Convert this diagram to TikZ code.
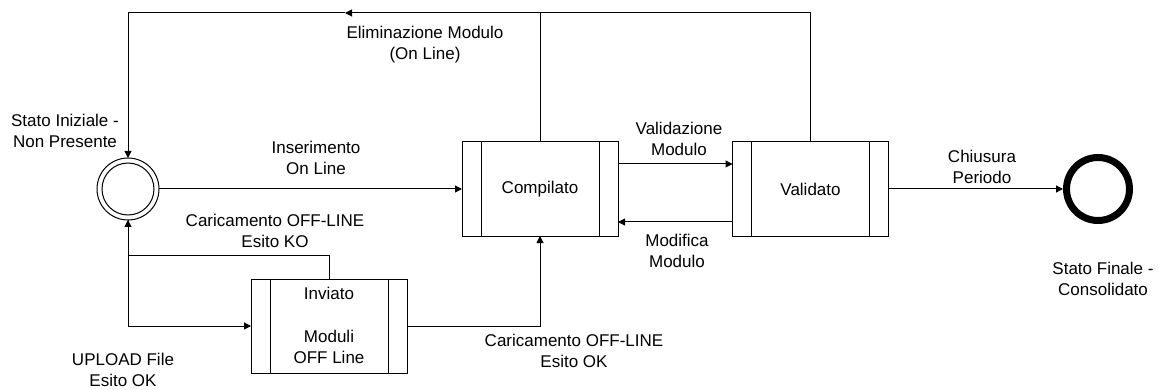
\documentclass[tikz,border=0pt]{standalone}
\usepackage{fontspec}
\setmainfont{Liberation Sans}
\usetikzlibrary{arrows.meta}
\tikzset{
  lbl/.style={align=center, font=\fontsize{17}{21}\selectfont, inner sep=0pt},
  procbox/.style={draw, line width=1pt, minimum width=156pt, minimum height=94pt,
    outer sep=0pt, inner sep=0pt, font=\fontsize{17}{21}\selectfont,
    path picture={
      \draw[line width=1pt] ([xshift=19pt]path picture bounding box.north west) -- ([xshift=19pt]path picture bounding box.south west);
      \draw[line width=1pt] ([xshift=-19pt]path picture bounding box.north east) -- ([xshift=-19pt]path picture bounding box.south east);
    }},
  conn/.style={line width=1pt},
  arr/.style={line width=1pt, -{Triangle[length=7pt,width=7pt]}},
}
\begin{document}
\begin{tikzpicture}[x=1pt,y=-1pt]
\useasboundingbox (0,0) rectangle (1159,390);
% states
\node[circle, draw, line width=1pt, minimum size=62pt, outer sep=0pt, inner sep=0pt] (init) at (128,189) {};
\node[circle, draw, line width=1pt, minimum size=52pt, outer sep=0pt, inner sep=0pt] (initin) at (init.center) {};
\node[procbox] (comp) at (540,189) {Compilato};
\node[procbox] (val) at (810.5,189) {Validato};
\node[procbox] (inv) at (329,326) {};
\node[lbl] (invt) at ([yshift=33pt]inv.center) {Inviato};
\node[lbl] (invm) at ([yshift=-21pt]inv.center) {Moduli\\OFF Line};
\node[circle, draw, line width=7pt, minimum size=63pt, inner sep=0pt] (fin) at (1098,189) {};
% helper coordinates
\coordinate (topR) at (810.5,13);
\coordinate (topC) at (540,13);
\coordinate (topA) at (345,13);
\coordinate (topL) at (128,13);
\coordinate (koJ) at (128,255);
% connectors
\draw[conn] (comp.north) -- (topC);
\draw[arr] (val.north) -- (topR) -- (topA);
\draw[arr] (topA) -- (topL) -- (init.north);
\draw[arr] (init.east) -- (comp.west);
\draw[arr] ([yshift=25pt]comp.east) -- ([yshift=25pt]val.west);
\draw[arr] ([yshift=-33pt]val.west) -- ([yshift=-33pt]comp.east);
\draw[arr] (val.east) -- (fin.west);
\draw[arr] (inv.north) |- (koJ) -- (init.south);
\draw[arr] (init.south) |- (inv.west);
\draw[arr] (inv.east) -| (comp.south);
% labels
\node[lbl] (lstin) at (65,131) {Stato Iniziale -\\Non Presente};
\node[lbl] (lelim) at (425,45) {Eliminazione Modulo\\(On Line)};
\node[lbl] (lins) at (316,158) {Inserimento\\On Line};
\node[lbl] (lvalid) at (679,138.5) {Validazione\\Modulo};
\node[lbl] (lmod) at (677,250.5) {Modifica\\Modulo};
\node[lbl] (lchius) at (982,167) {Chiusura\\Periodo};
\node[lbl] (lstfin) at (1103,278.5) {Stato Finale -\\Consolidato};
\node[lbl] (lko) at (275,231) {Caricamento OFF-LINE\\Esito KO};
\node[lbl] (lok) at (574,351) {Caricamento OFF-LINE\\Esito OK};
\node[lbl] (lup) at (123,370) {UPLOAD File\\Esito OK};
\end{tikzpicture}
\end{document}
